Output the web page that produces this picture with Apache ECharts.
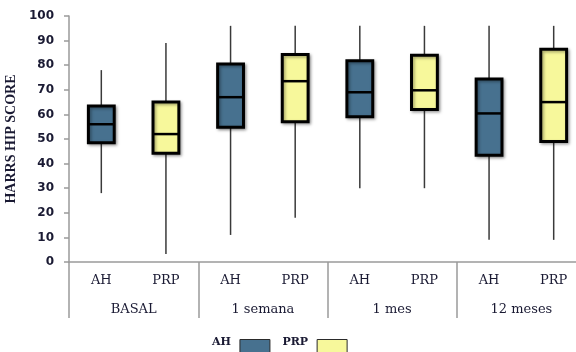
<!DOCTYPE html>
<html>
<head>
<meta charset="utf-8">
<script src="https://cdn.jsdelivr.net/npm/echarts@6/dist/echarts.min.js"></script>
<style>html,body{margin:0;padding:0;background:#fff}#c{width:576px;height:352px}</style>
</head>
<body>
<div id="c"></div>
<script>
// Data
const groups = ['BASAL', '1 semana', '1 mes', '12 meses'];
const treatments = ['AH', 'PRP'];
// [min, Q1, median, Q3, max] per time point
const ahStats = [
  [28, 48.5, 56, 63.4, 78],
  [11, 54.8, 67, 80.5, 96],
  [30, 59, 69, 81.8, 96],
  [9, 43.4, 60.4, 74.4, 96]
];
const prpStats = [
  [3.3, 44.2, 52, 65, 89],
  [18, 57, 73.5, 84.4, 96],
  [30, 62, 69.8, 84, 96],
  [9, 49, 65, 86.5, 96]
];
const yTicks = [0, 10, 20, 30, 40, 50, 60, 70, 80, 90, 100];

const xLabels = [];
groups.forEach(() => treatments.forEach(t => xLabels.push(t)));
const ahData = ahStats.map((s, i) => [i * 2].concat(s));
const prpData = prpStats.map((s, i) => [i * 2 + 1].concat(s));

const BLUE = '#47718f';
const YELLOW = '#f7f89b';
const AXIS = '#9a9a9a';
const TXT = '#1a1a33';

function makeRender(color) {
  return function (params, api) {
    const x = api.value(0);
    const lo = api.coord([x, api.value(1)]);
    const q1 = api.coord([x, api.value(2)]);
    const med = api.coord([x, api.value(3)]);
    const q3 = api.coord([x, api.value(4)]);
    const hi = api.coord([x, api.value(5)]);
    const bw = api.size([1, 0])[0] * 0.4;
    const cx = lo[0];
    return {
      type: 'group',
      children: [
        { type: 'line', shape: { x1: cx, y1: hi[1], x2: cx, y2: lo[1] },
          style: { stroke: '#3a3a3a', lineWidth: 1.5 } },
        { type: 'rect', shape: { x: cx - bw / 2, y: q3[1], width: bw, height: q1[1] - q3[1] },
          style: { fill: color, stroke: '#000', lineWidth: 3,
                   shadowBlur: 3, shadowOffsetX: 1.5, shadowOffsetY: 1.5, shadowColor: 'rgba(0,0,0,0.35)' } },
        { type: 'line', shape: { x1: cx - bw / 2, y1: med[1], x2: cx + bw / 2, y2: med[1] },
          style: { stroke: '#000', lineWidth: 2.5 } }
      ]
    };
  };
}

const chart = echarts.init(document.getElementById('c'), null, { renderer: 'canvas' });
chart.setOption({
  animation: false,
  backgroundColor: '#fff',
  grid: { left: 69, top: 16, width: 517, height: 246, containLabel: false, outerBoundsMode: 'none' },
  legend: {
    left: 207, top: 332, align: 'right', icon: 'rect',
    itemWidth: 30, itemHeight: 22, itemGap: 12,
    formatter: '{t|{name}}',
    textStyle: {
      fontFamily: 'DejaVu Serif', fontWeight: 'bold', fontSize: 11, color: TXT,
      rich: { t: { fontFamily: 'DejaVu Serif', fontWeight: 'bold', fontSize: 11, color: TXT, padding: [0, 4, 16, 0] } }
    },
    data: [
      { name: 'AH', itemStyle: { color: BLUE, borderColor: '#2a2a2a', borderWidth: 1 } },
      { name: 'PRP', itemStyle: { color: YELLOW, borderColor: '#2a2a2a', borderWidth: 1 } }
    ]
  },
  xAxis: [
    {
      type: 'category', data: xLabels, position: 'bottom',
      axisLine: { lineStyle: { color: AXIS, width: 1.5 } },
      axisTick: { interval: 0, length: 28, lineStyle: { color: AXIS, width: 1.5 } },
      axisLabel: { interval: 0, margin: 12, fontFamily: 'DejaVu Serif', fontSize: 13, color: TXT },
      splitLine: { show: false }
    },
    {
      type: 'category', data: groups, position: 'bottom',
      axisLine: { show: false },
      axisTick: { show: true, interval: 0, length: 56, lineStyle: { color: AXIS, width: 1.5 } },
      axisLabel: { interval: 0, margin: 41, fontFamily: 'DejaVu Serif', fontSize: 13, color: TXT },
      splitLine: { show: false }
    }
  ],
  yAxis: {
    type: 'value', min: yTicks[0], max: yTicks[yTicks.length - 1], interval: 10,
    name: 'HARRS HIP SCORE', nameLocation: 'middle', nameGap: 46, nameRotate: 90,
    nameTextStyle: { fontFamily: 'Liberation Serif', fontWeight: 'bold', fontSize: 14, color: TXT },
    axisLine: { show: true, lineStyle: { color: AXIS, width: 1.5 } },
    axisTick: { show: true, length: 5, lineStyle: { color: AXIS, width: 1.5 } },
    axisLabel: { margin: 15, fontFamily: 'DejaVu Sans', fontWeight: 'bold', fontSize: 12, color: TXT },
    splitLine: { show: false }
  },
  series: [
    { name: 'AH', type: 'custom', renderItem: makeRender(BLUE), data: ahData,
      itemStyle: { color: BLUE }, encode: { x: 0, y: [1, 2, 3, 4, 5] } },
    { name: 'PRP', type: 'custom', renderItem: makeRender(YELLOW), data: prpData,
      itemStyle: { color: YELLOW }, encode: { x: 0, y: [1, 2, 3, 4, 5] } }
  ]
});
</script>
</body>
</html>
